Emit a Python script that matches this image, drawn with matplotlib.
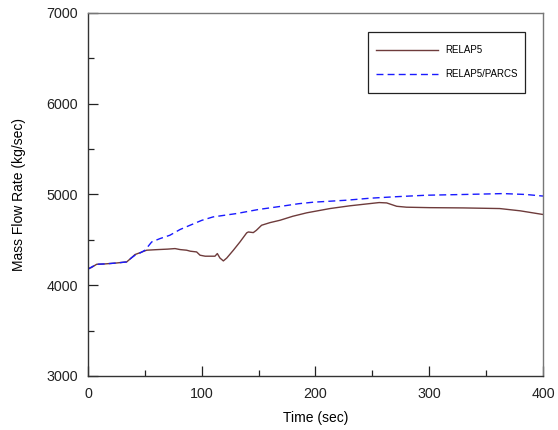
import matplotlib
matplotlib.use("Agg")
import matplotlib.pyplot as plt
from matplotlib.ticker import MultipleLocator
from matplotlib.patches import Rectangle

plt.rcParams['font.family'] = ['Liberation Sans', 'DejaVu Sans']

# RELAP5 standalone result
t_relap5 = [0, 3, 7.6, 15, 25, 34, 38, 41.3, 46, 51.6, 60, 70, 76.5, 81, 86.7, 90, 95.5,
            98.5, 103, 111.6, 113.7, 116, 119, 122, 127.8, 133.6, 139.5, 141, 145.3,
            148, 152.6, 160, 168.8, 180, 192.3, 212.7, 230, 248, 256, 262.6, 271.4,
            280, 300, 330, 362, 380, 398.8, 400]
w_relap5 = [4184, 4195, 4231, 4235, 4245, 4257, 4300, 4338, 4360, 4386, 4392, 4398, 4404,
            4393, 4386, 4375, 4367, 4331, 4320, 4320, 4349, 4300, 4268, 4300, 4386, 4477,
            4577, 4587, 4580, 4605, 4661, 4690, 4716, 4760, 4798, 4845, 4875, 4900, 4911,
            4907, 4870, 4860, 4855, 4852, 4845, 4820, 4782, 4780]

# Coupled RELAP5/PARCS result
t_coupled = [0, 3, 7.6, 15, 25, 34, 38, 41.3, 45, 50.1, 56, 63.3, 72, 80.9, 89.7, 100,
             110, 130.6, 150, 168.8, 185, 198, 227.4, 248, 270, 297.7, 330, 365,
             385, 398.8, 400]
w_coupled = [4175, 4200, 4231, 4235, 4245, 4257, 4300, 4330, 4350, 4386, 4477, 4514,
             4551, 4614, 4661, 4715, 4753, 4790, 4835, 4868, 4898, 4915, 4937, 4959,
             4975, 4992, 5000, 5010, 5000, 4984, 4983]

fig = plt.figure(figsize=(5.58, 4.30), dpi=100)
ax = fig.add_axes([0.1577, 0.1256, 0.8154, 0.8442])

ax.plot(t_relap5, w_relap5, color='#6e3b3b', lw=1.0, label='RELAP5')
ax.plot(t_coupled, w_coupled, color='#1a1aff', lw=1.0, ls=(0, (5, 3)),
        label='RELAP5/PARCS')

ax.set_xlim(0, 400)
ax.set_ylim(3000, 7000)
ax.xaxis.set_major_locator(MultipleLocator(100))
ax.xaxis.set_minor_locator(MultipleLocator(50))
ax.yaxis.set_major_locator(MultipleLocator(1000))
ax.yaxis.set_minor_locator(MultipleLocator(500))
ax.tick_params(which='major', direction='in', length=7.5, width=0.9,
               top=False, right=False, labelsize=10.3, colors='#222222')
ax.tick_params(which='minor', direction='in', length=4, width=0.9,
               top=False, right=False, colors='#222222')
ax.tick_params(axis='x', which='major', pad=8)
ax.tick_params(axis='y', which='major', pad=7)

for side in ('left', 'bottom'):
    ax.spines[side].set_color('#333333')
    ax.spines[side].set_linewidth(1.0)
for side in ('top', 'right'):
    ax.spines[side].set_color('#777777')
    ax.spines[side].set_linewidth(1.0)

ax.set_xlabel('Time (sec)', fontsize=10, labelpad=7)
ax.set_ylabel('Mass Flow Rate (kg/sec)', fontsize=10, labelpad=15)

# Legend entries without their own frame; a separate box encloses them
leg = ax.legend(loc='upper left', bbox_to_anchor=(0.633, 0.9118), fontsize=7.0,
                frameon=False, handlelength=6.4, handletextpad=0.72,
                borderpad=0, labelspacing=1.44, borderaxespad=0)
box = Rectangle((0.6154, 0.7796), 0.9604 - 0.6154, 0.9477 - 0.7796,
                transform=ax.transAxes, fill=True, facecolor='white',
                edgecolor='#222222', linewidth=0.9, zorder=4)
ax.add_patch(box)
leg.set_zorder(5)

fig.savefig('out.png', dpi=100)
